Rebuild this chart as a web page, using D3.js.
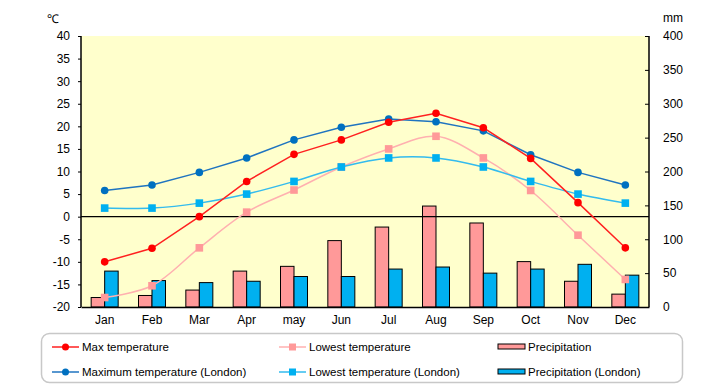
<!DOCTYPE html>
<html>
<head>
<meta charset="utf-8">
<script src="https://cdn.jsdelivr.net/npm/d3@7"></script>
<style>
  body { margin: 0; background: #fff; }
  svg text { font-family: "Liberation Sans", Arial, sans-serif; font-size: 12px; fill: #000; }
</style>
</head>
<body>
<svg></svg>
<script>
const months = ["Jan", "Feb", "Mar", "Apr", "may", "Jun", "Jul", "Aug", "Sep", "Oct", "Nov", "Dec"];
const maxTemp = [-10, -7, 0, 7.8, 13.8, 17, 20.9, 22.9, 19.7, 12.9, 3.1, -6.9];
const lowTemp = [-17.9, -15.3, -6.9, 1.0, 5.9, 11, 15, 17.8, 13, 5.8, -4.1, -13.9];
const maxTempLondon = [5.8, 7.0, 9.8, 13.0, 17.0, 19.8, 21.6, 21.0, 19.0, 13.7, 9.8, 7.0];
const lowTempLondon = [1.9, 1.9, 3.0, 5.0, 7.8, 11.0, 13.0, 13.0, 11.0, 7.8, 5.0, 3.0];
const precip = [14, 17, 25, 53, 60, 98, 118, 149, 124, 67, 38, 19];
const precipLondon = [53, 39, 36, 38, 45, 45, 56, 59, 50, 56, 63, 47];
const tempTicks = d3.range(-20, 41, 5);
const precipTicks = d3.range(0, 401, 50);

const W = 720, H = 385;
const margin = { top: 36, right: 71, bottom: 78, left: 81 };
const width = W - margin.left - margin.right;
const height = H - margin.top - margin.bottom;

const svgRoot = d3.select("svg").attr("width", W).attr("height", H);
const svg = svgRoot.append("g")
    .attr("transform", "translate(" + margin.left + "," + margin.top + ")");

const x = d3.scaleBand().domain(months).range([0, width]);
const y = d3.scaleLinear().domain([-20, 40]).range([height, 0]);
const y2 = d3.scaleLinear().domain([0, 400]).range([height, 0]);

svg.append("rect")
    .attr("width", width)
    .attr("height", height)
    .attr("fill", "#ffffcc");

// bars
const barW = 13.5;
const bars = [
    { data: precip, color: "#ff9999", off: -barW },
    { data: precipLondon, color: "#00b0f0", off: 0 }
];
bars.forEach(b => {
    svg.selectAll(null)
        .data(b.data)
        .enter()
        .append("rect")
        .attr("x", (d, i) => x(months[i]) + x.bandwidth() / 2 + b.off)
        .attr("y", d => y2(d))
        .attr("width", barW)
        .attr("height", d => height - y2(d))
        .attr("fill", b.color)
        .attr("stroke", "#000")
        .attr("stroke-width", 1);
});

// zero line
svg.append("line")
    .attr("x1", 0).attr("x2", width)
    .attr("y1", y(0)).attr("y2", y(0))
    .attr("stroke", "#000").attr("stroke-width", 1.2);

const cx = i => x(months[i]) + x.bandwidth() / 2;

const series = [
    { data: lowTemp, line: "#ffb0b0", mark: "#ff9999", shape: "square", curve: d3.curveCatmullRom },
    { data: lowTempLondon, line: "#33bbee", mark: "#00b0f0", shape: "square", curve: d3.curveCatmullRom },
    { data: maxTempLondon, line: "#1f74c0", mark: "#0070c0", shape: "circle", curve: d3.curveLinear },
    { data: maxTemp, line: "#ff2020", mark: "#ff0000", shape: "circle", curve: d3.curveLinear }
];

series.forEach(s => {
    const line = d3.line()
        .x((d, i) => cx(i))
        .y(d => y(d))
        .curve(s.curve);
    svg.append("path")
        .datum(s.data)
        .attr("d", line)
        .attr("fill", "none")
        .attr("stroke", s.line)
        .attr("stroke-width", 1.5);
    if (s.shape == "circle") {
        svg.selectAll(null)
            .data(s.data)
            .enter()
            .append("circle")
            .attr("cx", (d, i) => cx(i))
            .attr("cy", d => y(d))
            .attr("r", 3.8)
            .attr("fill", s.mark);
    } else {
        svg.selectAll(null)
            .data(s.data)
            .enter()
            .append("rect")
            .attr("x", (d, i) => cx(i) - 3.8)
            .attr("y", d => y(d) - 3.8)
            .attr("width", 7.6)
            .attr("height", 7.6)
            .attr("fill", s.mark);
    }
});

// axes
const leftAxis = d3.axisLeft(y).tickValues(tempTicks).tickFormat(d => String(d)).tickSize(3).tickPadding(8);
const gl = svg.append("g").call(leftAxis);
gl.select(".domain").attr("stroke-width", 1.5).attr("d", "M0," + height + "V0");
gl.selectAll("text").style("font-size", "12px");

const rightAxis = d3.axisRight(y2).tickValues(precipTicks).tickFormat(d => String(d)).tickSize(-4).tickPadding(14);
const gr = svg.append("g").attr("transform", "translate(" + width + ",0)").call(rightAxis);
gr.select(".domain").attr("stroke-width", 1.5).attr("d", "M0," + height + "V0");
gr.selectAll("text").style("font-size", "12px");

const bottomAxis = d3.axisBottom(x).tickSize(0).tickPadding(8);
const gb = svg.append("g").attr("transform", "translate(0," + height + ")").call(bottomAxis);
gb.select(".domain").attr("stroke-width", 1.5);
gb.selectAll("text").style("font-size", "12px");

svgRoot.append("text").attr("x", 47).attr("y", 23).text("\u2103");
svgRoot.append("text").attr("x", 663).attr("y", 22).text("mm");

// legend
const legend = svgRoot.append("g");
legend.append("rect")
    .attr("x", 41.5).attr("y", 333.5)
    .attr("width", 641).attr("height", 49)
    .attr("rx", 8)
    .attr("fill", "#fff")
    .attr("stroke", "#c8c8c8")
    .attr("stroke-width", 1.5);

const legendItems = [
    { label: "Max temperature", col: 0, row: 0, s: series[3] },
    { label: "Lowest temperature", col: 1, row: 0, s: series[0] },
    { label: "Precipitation", col: 2, row: 0, bar: bars[0] },
    { label: "Maximum temperature (London)", col: 0, row: 1, s: series[2] },
    { label: "Lowest temperature (London)", col: 1, row: 1, s: series[1] },
    { label: "Precipitation (London)", col: 2, row: 1, bar: bars[1] }
];
const colX = [52, 279, 498];
const rowY = [347, 372];

legendItems.forEach(it => {
    const lx = colX[it.col], ly = rowY[it.row];
    const g = legend.append("g");
    if (it.bar) {
        g.append("rect")
            .attr("x", lx).attr("y", ly - 3)
            .attr("width", 27).attr("height", 5)
            .attr("fill", it.bar.color)
            .attr("stroke", "#000").attr("stroke-width", 1);
    } else {
        g.append("line")
            .attr("x1", lx).attr("x2", lx + 27)
            .attr("y1", ly).attr("y2", ly)
            .attr("stroke", it.s.line).attr("stroke-width", 1.5);
        if (it.s.shape == "circle") {
            g.append("circle").attr("cx", lx + 13.5).attr("cy", ly).attr("r", 3.5).attr("fill", it.s.mark);
        } else {
            g.append("rect").attr("x", lx + 10).attr("y", ly - 3.5).attr("width", 7).attr("height", 7).attr("fill", it.s.mark);
        }
    }
    g.append("text")
        .attr("x", lx + 30).attr("y", ly + 4)
        .style("font-size", "11.5px")
        .text(it.label);
});
</script>
</body>
</html>
